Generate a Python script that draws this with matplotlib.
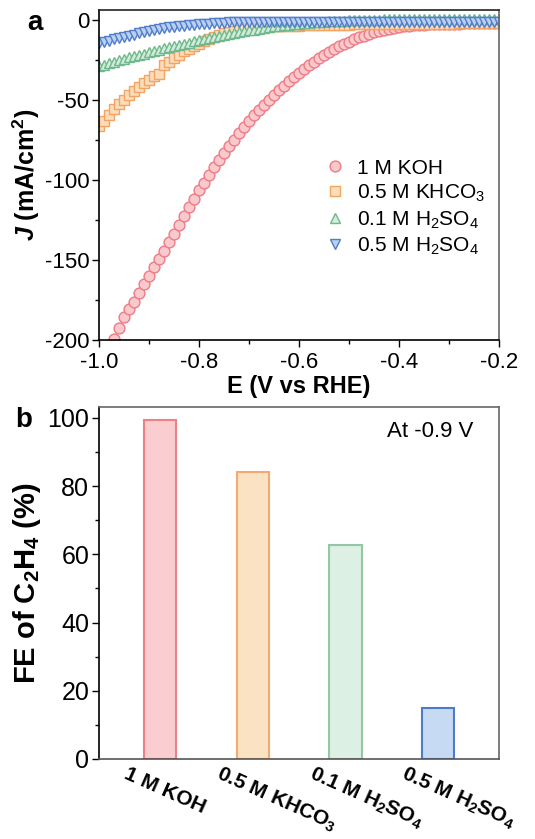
import numpy as np
import matplotlib
matplotlib.use('Agg')
import matplotlib.pyplot as plt
from matplotlib.ticker import MultipleLocator
from matplotlib.transforms import ScaledTranslation

plt.rcParams['font.family'] = ['Liberation Sans', 'DejaVu Sans']
plt.rcParams['mathtext.fontset'] = 'custom'
plt.rcParams['mathtext.rm'] = 'Liberation Sans'
plt.rcParams['mathtext.it'] = 'Liberation Sans:italic'
plt.rcParams['mathtext.bf'] = 'Liberation Sans:bold'
plt.rcParams['mathtext.bfit'] = 'Liberation Sans:italic:bold'

# ── panel a: LSV curves (E in V vs RHE, J in mA/cm2) ─────────────
E = [-1.00, -0.99, -0.98, -0.97, -0.96, -0.95, -0.94, -0.93, -0.92, -0.91,
     -0.90, -0.89, -0.88, -0.87, -0.86, -0.85, -0.84, -0.83, -0.82, -0.81,
     -0.80, -0.79, -0.78, -0.77, -0.76, -0.75, -0.74, -0.73, -0.72, -0.71,
     -0.70, -0.69, -0.68, -0.67, -0.66, -0.65, -0.64, -0.63, -0.62, -0.61,
     -0.60, -0.59, -0.58, -0.57, -0.56, -0.55, -0.54, -0.53, -0.52, -0.51,
     -0.50, -0.49, -0.48, -0.47, -0.46, -0.45, -0.44, -0.43, -0.42, -0.41,
     -0.40, -0.39, -0.38, -0.37, -0.36, -0.35, -0.34, -0.33, -0.32, -0.31,
     -0.30, -0.29, -0.28, -0.27, -0.26, -0.25, -0.24, -0.23, -0.22, -0.21,
     -0.20]

# 1 M KOH starts at -0.97 V
J_KOH = [-199.5, -192.3, -185.8, -180.4, -176.0, -170.6, -165.2,
         -159.8, -154.6, -149.4, -144.4, -139.0, -133.7, -128.5, -122.7, -117.0, -111.7,
         -106.4, -101.7, -96.9, -92.3, -87.9, -83.5, -79.2, -75.0, -70.8, -67.0,
         -63.3, -59.8, -56.4, -53.1, -50.0, -46.9, -44.0, -41.3, -38.6, -35.9,
         -33.3, -30.8, -28.5, -26.3, -24.1, -22.1, -20.2, -18.4, -16.7, -15.2,
         -13.7, -12.3, -11.1, -10.0, -9.0, -8.0, -7.1, -6.3, -5.6, -5.0,
         -4.6, -4.2, -3.9, -3.6, -3.4, -3.2, -3.0, -2.9, -2.8, -2.7,
         -2.6, -2.5, -2.5, -2.4, -2.4, -2.3, -2.3, -2.3, -2.2, -2.2,
         -2.2]

J_KHCO3 = [-66.5, -63.0, -59.4, -55.8, -52.5, -50.0, -47.3, -44.6, -42.1, -39.6,
           -37.5, -35.4, -33.7, -28.5, -26.3, -24.2, -21.9, -19.8, -18.1, -16.7,
           -15.0, -13.5, -12.1, -10.8, -9.8, -8.5, -7.7, -6.9, -6.2, -5.6,
           -5.3, -5.0, -4.8, -4.6, -4.4, -4.3, -4.1, -4.0, -3.9, -3.8,
           -3.7, -3.6, -3.5, -3.5, -3.4, -3.3, -3.3, -3.2, -3.2, -3.1,
           -3.1, -3.0, -3.0, -3.0, -2.9, -2.9, -2.9, -2.8, -2.8, -2.8,
           -2.8, -2.7, -2.7, -2.7, -2.6, -2.6, -2.6, -2.6, -2.5, -2.5,
           -2.5, -2.5, -2.4, -2.4, -2.4, -2.4, -2.3, -2.3, -2.3, -2.3,
           -2.3]

J_H2SO4_01 = [-29.0, -28.2, -27.3, -26.4, -25.5, -24.6, -23.6, -22.8, -22.0, -21.2,
              -20.4, -19.6, -18.8, -18.0, -17.2, -16.5, -15.8, -15.0, -14.3, -13.6,
              -12.9, -12.2, -11.5, -10.9, -10.3, -9.7, -9.1, -8.5, -7.9, -7.3,
              -6.8, -6.2, -5.7, -5.2, -4.7, -4.3, -3.9, -3.5, -3.1, -2.8,
              -2.5, -2.2, -1.9, -1.7, -1.5, -1.3, -1.1, -0.9, -0.7, -0.6,
              -0.5, -0.4, -0.3, -0.2, -0.1, 0.0, 0.0, 0.1, 0.1, 0.1,
              0.2, 0.2, 0.2, 0.2, 0.3, 0.3, 0.3, 0.3, 0.3, 0.3,
              0.4, 0.4, 0.4, 0.4, 0.4, 0.4, 0.4, 0.4, 0.4, 0.4,
              0.4]

J_H2SO4_05 = [-14.5, -13.8, -13.1, -12.4, -11.7, -11.0, -10.3, -9.4, -8.6, -7.8,
              -7.1, -6.4, -5.8, -5.3, -4.8, -4.4, -4.0, -3.7, -3.4, -3.1,
              -2.9, -2.7, -2.5, -2.3, -2.1, -1.9, -1.7, -1.5, -1.4, -1.3,
              -1.2, -1.2, -1.2, -1.2, -1.2, -1.2, -1.2, -1.2, -1.2, -1.2,
              -1.2, -1.2, -1.2, -1.2, -1.2, -1.2, -1.2, -1.2, -1.2, -1.2,
              -1.2, -1.2, -1.2, -1.2, -1.2, -1.2, -1.2, -1.2, -1.2, -1.2,
              -1.2, -1.2, -1.2, -1.2, -1.2, -1.2, -1.2, -1.2, -1.2, -1.2,
              -1.2, -1.2, -1.2, -1.2, -1.2, -1.2, -1.2, -1.2, -1.2, -1.2,
              -1.2]

LEGEND_LABELS = ['1 M KOH', '0.5 M KHCO$_3$', '0.1 M H$_2$SO$_4$', '0.5 M H$_2$SO$_4$']

# ── panel b: FE of C2H4 at -0.9 V ───────────────────────────────
ELECTROLYTES = ['1 M KOH', '0.5 M KHCO$_\\mathbf{3}$',
                '0.1 M H$_\\mathbf{2}$SO$_\\mathbf{4}$', '0.5 M H$_\\mathbf{2}$SO$_\\mathbf{4}$']
FE_C2H4 = [99.4, 84.2, 62.7, 15.0]

# colours: (face, edge)
COLORS = [('#F9C9CD', '#EF7B83'),
          ('#FBDDBA', '#F1A466'),
          ('#D2ECDC', '#6FB88B'),
          ('#B9D0F1', '#4F7DCC')]
BAR_COLORS = [('#FACDD1', '#F07F86'),
              ('#FBE2C3', '#F2AA70'),
              ('#DDF0E4', '#92C9A4'),
              ('#C7DAF4', '#4D7DC9')]
MARKERS = ['o', 's', '^', 'v']
MSIZES = [7.8, 7.0, 7.8, 7.8]

fig = plt.figure(figsize=(5.35, 8.39), dpi=100)
ax1 = fig.add_axes([0.185, 0.5948, 0.748, 0.3933])
ax2 = fig.add_axes([0.185, 0.0954, 0.748, 0.4196])

series = [(E[3:], J_KOH), (E, J_KHCO3), (E, J_H2SO4_01), (E, J_H2SO4_05)]
for i, (x, y) in enumerate(series):
    ax1.plot(x, y, linestyle='none', marker=MARKERS[i], ms=MSIZES[i],
             mfc=COLORS[i][0], mec=COLORS[i][1], mew=1.0, label=LEGEND_LABELS[i])

ax1.set_xlim(-1.0, -0.2)
ax1.set_ylim(-200, 6)
ax1.xaxis.set_minor_locator(MultipleLocator(0.1))
ax1.yaxis.set_minor_locator(MultipleLocator(25))
ax1.set_xticks([-1.0, -0.8, -0.6, -0.4, -0.2])
ax1.set_xticklabels(['-1.0', '-0.8', '-0.6', '-0.4', '-0.2'])
ax1.set_yticks([0, -50, -100, -150, -200])
ax1.set_yticklabels(['0', '-50', '-100', '-150', '-200'])
ax1.tick_params(which='major', direction='out', length=5, width=1, labelsize=16, pad=2)
ax1.tick_params(axis='x', which='major', pad=4)
ax1.tick_params(which='minor', direction='out', length=3, width=1)
ax1.set_xlabel('E (V vs RHE)', fontsize=17, fontweight='bold', labelpad=1)
ax1.set_ylabel('$\\mathbfit{J}$ (mA/cm$^\\mathbf{2}$)', fontsize=18, fontweight='bold')
ax1.yaxis.set_label_coords(-0.142, 0.5)
ax1.legend(loc='upper left', bbox_to_anchor=(0.545, 0.575), frameon=False, fontsize=15,
           handlelength=0.9, handletextpad=0.6, labelspacing=0.25, borderaxespad=0)
ax1.text(-0.18, 1.0, 'a', transform=ax1.transAxes, fontsize=20, fontweight='bold',
         ha='left', va='top')

x = np.arange(len(FE_C2H4))
for i in range(len(FE_C2H4)):
    ax2.bar(x[i], FE_C2H4[i], width=0.35, color=BAR_COLORS[i][0],
            edgecolor=BAR_COLORS[i][1], linewidth=1.5)
ax2.set_xlim(-0.66, 3.66)
ax2.set_ylim(0, 103.2)
ax2.yaxis.set_major_locator(MultipleLocator(20))
ax2.yaxis.set_minor_locator(MultipleLocator(10))
ax2.set_xticks(x)
ax2.set_xticklabels([])
ax2.tick_params(axis='x', length=0)
# rotated category labels, shifted left so they start under the bar edge
shift = ScaledTranslation(-0.31, -0.05, fig.dpi_scale_trans)
for xi, lab in zip(x, ELECTROLYTES):
    ax2.text(xi, 0, lab, transform=ax2.get_xaxis_transform() + shift,
             fontsize=15, fontweight='bold', rotation=-24, rotation_mode='anchor',
             ha='left', va='top')
ax2.tick_params(axis='y', which='major', direction='out', length=5, width=1, labelsize=18, pad=2)
ax2.tick_params(axis='y', which='minor', direction='out', length=3, width=1)
ax2.set_ylabel('FE of C$_\\mathbf{2}$H$_\\mathbf{4}$ (%)', fontsize=21, fontweight='bold')
ax2.yaxis.set_label_coords(-0.14, 0.5)
ax2.text(0.935, 0.93, 'At -0.9 V', transform=ax2.transAxes, fontsize=16,
         ha='right', va='center')
ax2.text(-0.21, 1.0, 'b', transform=ax2.transAxes, fontsize=20, fontweight='bold',
         ha='left', va='top')

for ax in (ax1, ax2):
    for side in ('top', 'right'):
        ax.spines[side].set_color('#666666')
    for sp in ax.spines.values():
        sp.set_linewidth(1.2)
ax1.spines['top'].set_color('#222222')
ax2.spines['bottom'].set_color('#555555')

fig.savefig('out.png', dpi=100)
